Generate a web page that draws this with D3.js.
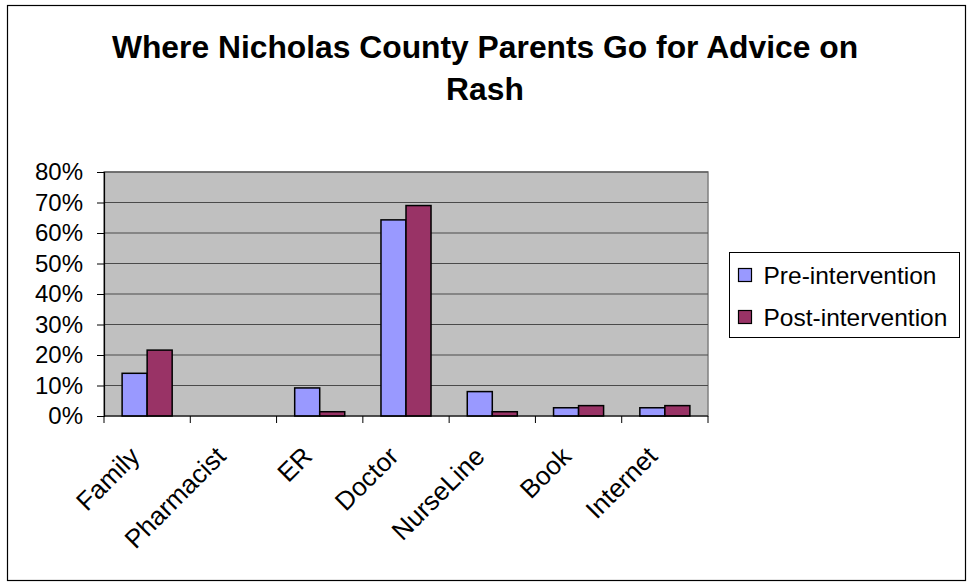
<!DOCTYPE html>
<html>
<head>
<meta charset="utf-8">
<script src="https://cdn.jsdelivr.net/npm/d3@7"></script>
<style>
  body { margin: 0; background: #fff; }
  svg text { font-family: "Liberation Sans", Arial, sans-serif; }
</style>
</head>
<body>
<div id="chart"></div>
<script>
const categories = ['Family', 'Pharmacist', 'ER', 'Doctor', 'NurseLine', 'Book', 'Internet']
const seriesNames = ['Pre-intervention', 'Post-intervention']
const preValues = [0.14, 0, 0.092, 0.643, 0.08, 0.027, 0.027]
const postValues = [0.216, 0, 0.014, 0.69, 0.014, 0.034, 0.034]
const yTicks = [0, 0.1, 0.2, 0.3, 0.4, 0.5, 0.6, 0.7, 0.8]
const titleLines = ['Where Nicholas County Parents Go for Advice on', 'Rash']
const colors = ['#9999ff', '#993366']

const w = 971, h = 582
const margin = {top: 172, left: 104, right: 263, bottom: 166}
const width = w - margin.left - margin.right
const height = h - margin.top - margin.bottom

const data = categories.map((c, i) => ({cat: c, values: [preValues[i], postValues[i]]}))

const svg = d3.select('#chart').append('svg')
  .attr('width', w)
  .attr('height', h)

// outer frame
svg.append('rect')
  .attr('x', 7.5).attr('y', 5.5)
  .attr('width', 958).attr('height', 575)
  .attr('fill', '#fff')
  .attr('stroke', '#000')
  .attr('stroke-width', 1.2)

svg.append('g').selectAll('text')
  .data(titleLines)
  .enter()
  .append('text')
  .attr('x', 485)
  .attr('y', (d, i) => 58 + i * 42)
  .attr('text-anchor', 'middle')
  .style('font-size', '31.8px')
  .style('font-weight', 'bold')
  .text(d => d)

const x = d3.scaleBand()
  .domain(categories)
  .range([0, width])
  .paddingInner(0.42)
  .paddingOuter(0.21)

const x1 = d3.scaleBand()
  .domain(seriesNames)
  .range([0, x.bandwidth()])

const y = d3.scaleLinear()
  .domain([0, 0.8])
  .range([height, 0])

const chart = svg.append('g')
  .attr('transform', 'translate(' + margin.left + ',' + margin.top + ')')

chart.append('rect')
  .attr('width', width)
  .attr('height', height)
  .attr('fill', '#c0c0c0')
  .attr('stroke', '#808080')
  .attr('stroke-width', 1.5)

chart.append('g')
  .selectAll('line')
  .data(yTicks.slice(1))
  .enter()
  .append('line')
  .attr('x1', 0).attr('x2', width)
  .attr('y1', d => y(d)).attr('y2', d => y(d))
  .attr('stroke', '#4a4a4a')
  .attr('stroke-width', 1.2)

const groups = chart.append('g')
  .selectAll('g')
  .data(data)
  .enter()
  .append('g')
  .attr('transform', d => 'translate(' + x(d.cat) + ',0)')

groups.selectAll('rect')
  .data(d => d.values.map((v, i) => ({key: seriesNames[i], v: v, i: i})))
  .enter()
  .filter(d => d.v > 0)
  .append('rect')
  .attr('x', d => x1(d.key))
  .attr('width', x1.bandwidth())
  .attr('y', d => y(d.v))
  .attr('height', d => height - y(d.v))
  .attr('fill', d => colors[d.i])
  .attr('stroke', '#000')
  .attr('stroke-width', 1.5)

// y axis
const yAxis = chart.append('g')
  .call(d3.axisLeft(y).tickValues(yTicks).tickFormat(d3.format('.0%')).tickSize(7).tickPadding(14))
yAxis.select('.domain').attr('stroke', '#000').attr('stroke-width', 1.2)
yAxis.selectAll('.tick line').attr('stroke', '#000')
yAxis.selectAll('text').style('font-size', '24px').attr('fill', '#000')

// x axis with ticks between categories
const step = x.step()
const xAxis = chart.append('g').attr('transform', 'translate(0,' + height + ')')
xAxis.append('line')
  .attr('x1', 0).attr('x2', width)
  .attr('stroke', '#000').attr('stroke-width', 1.2)
xAxis.selectAll('.tk')
  .data(d3.range(categories.length + 1))
  .enter()
  .append('line')
  .attr('x1', i => i * step).attr('x2', i => i * step)
  .attr('y1', 0).attr('y2', 7)
  .attr('stroke', '#000')
xAxis.selectAll('text')
  .data(categories)
  .enter()
  .append('text')
  .attr('transform', d => 'translate(' + (x(d) + x.bandwidth() / 2 - 6) + ',42) rotate(-45)')
  .attr('text-anchor', 'end')
  .style('font-size', '26px')
  .text(d => d)

// legend
const legend = svg.append('g').attr('transform', 'translate(729.5,252.5)')
legend.append('rect')
  .attr('width', 230).attr('height', 85)
  .attr('fill', '#fff').attr('stroke', '#000')
const items = legend.selectAll('.item')
  .data(seriesNames)
  .enter()
  .append('g')
  .attr('transform', (d, i) => 'translate(0,' + (i * 42) + ')')
items.append('rect')
  .attr('x', 9).attr('y', 16)
  .attr('width', 13).attr('height', 13)
  .attr('fill', (d, i) => colors[i])
  .attr('stroke', '#000').attr('stroke-width', 1.2)
items.append('text')
  .attr('x', 34).attr('y', 31)
  .style('font-size', '24.5px')
  .text(d => d)
</script>
</body>
</html>
